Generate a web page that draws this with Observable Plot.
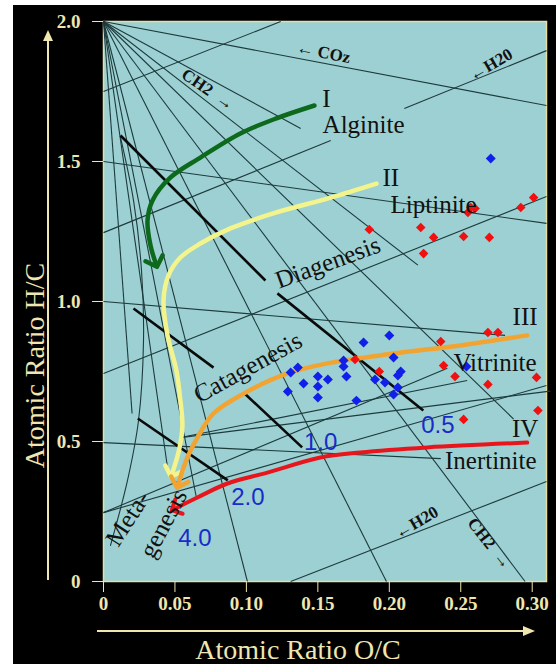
<!DOCTYPE html>
<html><head><meta charset="utf-8">
<script src="https://cdn.jsdelivr.net/npm/d3@7"></script>
<script src="https://cdn.jsdelivr.net/npm/@observablehq/plot@0.6"></script>
<style>
body{margin:0;background:#fff;width:556px;height:664px;overflow:hidden}
#chart{position:absolute;left:13px;top:5px}
</style>
</head><body><div id="chart"></div><script>
// ---------- data (O/C, H/C) ----------
const xTicks = [0, 0.05, 0.10, 0.15, 0.20, 0.25, 0.30];
const xTickLabels = ["0", "0.05", "0.10", "0.15", "0.20", "0.25", "0.30"];
const yTicks = [0, 0.5, 1.0, 1.5, 2.0];
const yTickLabels = ["0", "0.5", "1.0", "1.5", "2.0"];

// fan lines radiating from the apex (0, 2.0)
const apexOC = 0, apexHC = 2.0;
const fanEndOC = [0.31, 0.138, 0.22, 0.287, 0.295, 0.198, 0.1007, 0.065, 0.045, 0.02];
const fanEndHC = [1.70, 1.618, 1.13, 0.58, 0.0, 0.0, 0.0, 0.30, 0.40, 0.60];

// other thin guide lines
const guideOC1 = [0, 0, 0, 0, 0, 0, 0, 0, 0.0538, 0.0538, 0.131, 0.2105];
const guideHC1 = [1.5, 1.0, 0.496, 1.75, 1.246, 0.743, 0.246, 0.246, 0.514, 0.514, 0.0, 1.689];
const guideOC2 = [0.31, 0.281, 0.236, 0.124, 0.159, 0.31, 0.31, 0.2406, 0.3126, 0.2545, 0.31, 0.31];
const guideHC2 = [1.279, 0.879, 0.439, 2.0, 1.575, 1.375, 0.70, 0.762, 0.68, 0.718, 0.357, 1.896];

// curved metagenesis boundary
const metaOC = [0.0119, 0.021, 0.0266, 0.028, 0.0245, 0.0168, 0.0049];
const metaHC = [1.586, 1.361, 1.111, 0.861, 0.575, 0.361, 0.129];

// thick black iso-reflectance segments
const isoOC1 = [0.0119, 0.1217, 0.021, 0.098, 0.024];
const isoHC1 = [1.593, 1.029, 0.975, 0.675, 0.582];
const isoOC2 = [0.1133, 0.2238, 0.077, 0.139, 0.087];
const isoHC2 = [1.075, 0.611, 0.764, 0.479, 0.361];

// evolution paths of kerogen types
const typeI_OC = [0.1476, 0.121, 0.0958, 0.0678, 0.0469, 0.0343, 0.0308, 0.0329, 0.0364];
const typeI_HC = [1.700, 1.654, 1.600, 1.514, 1.443, 1.361, 1.289, 1.200, 1.139];
const typeII_OC = [0.191, 0.159, 0.121, 0.0888, 0.0678, 0.0538, 0.0455, 0.042, 0.0448, 0.051, 0.0538, 0.0552, 0.0531, 0.0483];
const typeII_HC = [1.421, 1.371, 1.318, 1.261, 1.207, 1.157, 1.093, 1.004, 0.879, 0.754, 0.646, 0.557, 0.475, 0.389];
const typeIII_OC = [0.2965, 0.2497, 0.2028, 0.1566, 0.1287, 0.098, 0.0769, 0.0657, 0.0587, 0.0524];
const typeIII_HC = [0.879, 0.843, 0.814, 0.779, 0.743, 0.671, 0.600, 0.514, 0.443, 0.350];
const typeIV_OC = [0.2965, 0.2266, 0.1797, 0.1517, 0.1147, 0.0867, 0.0657, 0.0503];
const typeIV_HC = [0.496, 0.479, 0.461, 0.443, 0.389, 0.350, 0.300, 0.261];

// samples
const blueOC = [0.200, 0.182, 0.168, 0.168, 0.203, 0.136, 0.131, 0.150, 0.157, 0.170, 0.140, 0.150, 0.129, 0.150, 0.177, 0.190, 0.197, 0.208, 0.206, 0.206, 0.203, 0.254, 0.271];
const blueHC = [0.879, 0.854, 0.789, 0.768, 0.800, 0.764, 0.746, 0.732, 0.721, 0.732, 0.707, 0.696, 0.679, 0.657, 0.646, 0.721, 0.711, 0.750, 0.736, 0.693, 0.668, 0.768, 1.511];
const redOC = [0.186, 0.222, 0.231, 0.224, 0.252, 0.270, 0.257, 0.255, 0.260, 0.292, 0.301, 0.269, 0.276, 0.236, 0.238, 0.246, 0.269, 0.303, 0.304, 0.252, 0.176, 0.193];
const redHC = [1.257, 1.264, 1.229, 1.171, 1.232, 1.229, 1.336, 1.318, 1.332, 1.336, 1.371, 0.889, 0.889, 0.857, 0.771, 0.732, 0.704, 0.729, 0.611, 0.579, 0.793, 0.750];

// labels
const typeLabels = ["I", "Alginite", "II", "Liptinite", "III", "Vitrinite", "IV", "Inertinite"];
const typeLabelOC = [0.156, 0.182, 0.201, 0.231, 0.295, 0.274, 0.295, 0.271];
const typeLabelHC = [1.725, 1.629, 1.440, 1.343, 0.943, 0.782, 0.546, 0.432];
const stageLabels = ["Diagenesis", "Catagenesis", "Meta-", "genesis"];
const stageLabelOC = [0.157, 0.101, 0.017, 0.042];
const stageLabelHC = [1.139, 0.764, 0.225, 0.207];
const stageAngle = [-20, -29, -57, -62];
const roLabels = ["0.5", "1.0", "2.0", "4.0"];
const roLabelOC = [0.234, 0.152, 0.101, 0.064];
const roLabelHC = [0.557, 0.496, 0.300, 0.154];
const reactLabels = ["\u2190 COz", "\u2190H20", "CH2  \u2192", "\u2190H20", "CH2  \u2192"];
const reactOC = [0.154, 0.271, 0.073, 0.219, 0.270];
const reactHC = [1.889, 1.846, 1.757, 0.211, 0.136];
const reactAngle = [11, -30, 35, -30, 52];
const xTitle = "Atomic Ratio O/C";
const yTitle = "Atomic Ratio H/C";

// ---------- helpers ----------
const zip = (xs, ys) => xs.map((x, i) => ({x, y: ys[i]}));
const fan = fanEndOC.map((x, i) => ({x1: apexOC, y1: apexHC, x2: x, y2: fanEndHC[i]}));
const guides = guideOC1.map((x, i) => ({x1: x, y1: guideHC1[i], x2: guideOC2[i], y2: guideHC2[i]}));
const isos = isoOC1.map((x, i) => ({x1: x, y1: isoHC1[i], x2: isoOC2[i], y2: isoHC2[i]}));
const tLab = typeLabels.map((t, i) => ({t, x: typeLabelOC[i], y: typeLabelHC[i]}));
const sLab = stageLabels.map((t, i) => ({t, x: stageLabelOC[i], y: stageLabelHC[i], r: stageAngle[i]}));
const rLab = roLabels.map((t, i) => ({t, x: roLabelOC[i], y: roLabelHC[i]}));
const aLab = reactLabels.map((t, i) => ({t, x: reactOC[i], y: reactHC[i], r: reactAngle[i]}));

const cream = "#efe6b0";
const cyan = "#9dd0d2";
const lineCol = "#1d3a3c";

function decorations(index, scales, values, dims) {
  const {width, height, marginLeft, marginRight, marginTop, marginBottom} = dims;
  const g = d3.create("svg:g");
  const ax = marginLeft - 55, ay0 = height - marginBottom - 1, ay1 = marginTop + 9;
  g.append("line").attr("x1", ax).attr("x2", ax).attr("y1", ay0).attr("y2", ay1 + 8)
    .attr("stroke", cream).attr("stroke-width", 2);
  g.append("path").attr("d", `M${ax},${ay1}l-5,11l10,0z`).attr("fill", cream);
  const by = height - marginBottom + 50, bx0 = marginLeft - 6, bx1 = width - marginRight - 11;
  g.append("line").attr("x1", bx0).attr("x2", bx1 - 8).attr("y1", by).attr("y2", by)
    .attr("stroke", cream).attr("stroke-width", 2);
  g.append("path").attr("d", `M${bx1},${by}l-12,-5l0,10z`).attr("fill", cream);
  return g.node();
}

const chart = Plot.plot({
  width: 543,
  height: 659,
  marginLeft: 90,
  marginRight: 10,
  marginTop: 16,
  marginBottom: 83,
  style: {background: "#000", color: cream, fontFamily: "Liberation Serif"},
  x: {domain: [0, 0.31]},
  y: {domain: [0, 2.0]},
  marks: [
    Plot.frame({fill: cyan, stroke: "#e6dfa0", strokeWidth: 1.5}),
    Plot.link(fan, {x1: "x1", y1: "y1", x2: "x2", y2: "y2", stroke: lineCol, strokeWidth: 1.1}),
    Plot.link(guides, {x1: "x1", y1: "y1", x2: "x2", y2: "y2", stroke: lineCol, strokeWidth: 1.1}),
    Plot.line(zip(metaOC, metaHC), {x: "x", y: "y", curve: "catmull-rom", stroke: lineCol, strokeWidth: 1.1}),
    Plot.link(isos, {x1: "x1", y1: "y1", x2: "x2", y2: "y2", stroke: "#0a0a0a", strokeWidth: 2.6}),
    Plot.line(zip(typeI_OC, typeI_HC), {x: "x", y: "y", curve: "catmull-rom", stroke: "#0d6a1c", strokeWidth: 4.5, markerEnd: "arrow"}),
    Plot.line(zip(typeII_OC, typeII_HC), {x: "x", y: "y", curve: "catmull-rom", stroke: "#f4f48c", strokeWidth: 4.5, markerEnd: "arrow"}),
    Plot.line(zip(typeIII_OC, typeIII_HC), {x: "x", y: "y", curve: "catmull-rom", stroke: "#f2a432", strokeWidth: 4.5, markerEnd: "arrow"}),
    Plot.line(zip(typeIV_OC, typeIV_HC), {x: "x", y: "y", curve: "catmull-rom", stroke: "#e8161c", strokeWidth: 4, markerEnd: "arrow"}),
    Plot.dot(zip(redOC, redHC), {x: "x", y: "y", symbol: "diamond2", r: 4.3, fill: "#f01010", stroke: "none"}),
    Plot.dot(zip(blueOC, blueHC), {x: "x", y: "y", symbol: "diamond2", r: 4.5, fill: "#1020e8", stroke: "none"}),
    Plot.text(tLab, {x: "x", y: "y", text: "t", fontSize: 25, fill: "#111", fontFamily: "Liberation Serif"}),
    Plot.text(sLab, {x: "x", y: "y", text: "t", rotate: "r", fontSize: 25, fill: "#111", fontFamily: "Liberation Serif"}),
    Plot.text(rLab, {x: "x", y: "y", text: "t", fontSize: 24, fill: "#1a2bc8", fontFamily: "Liberation Sans"}),
    Plot.text(aLab, {x: "x", y: "y", text: "t", rotate: "r", fontSize: 17, fill: "#111", fontFamily: "Liberation Serif", fontWeight: "bold"}),
    Plot.axisX({ticks: xTicks, tickFormat: (d, i) => xTickLabels[i], tickSize: 11, tickPadding: 4, fontSize: 19, fontWeight: "bold", fill: cream, stroke: cream, label: null}),
    Plot.axisY({ticks: yTicks, tickFormat: (d, i) => yTickLabels[i], tickSize: 11, tickPadding: 12, fontSize: 19, fontWeight: "bold", fill: cream, stroke: cream, label: null}),
    Plot.text([xTitle], {frameAnchor: "bottom", dx: -27, dy: 69, fontSize: 28, fill: cream, fontFamily: "Liberation Serif", lineAnchor: "middle"}),
    Plot.text([yTitle], {frameAnchor: "left", textAnchor: "middle", dx: -68, dy: 64, rotate: -90, fontSize: 28, fill: cream, fontFamily: "Liberation Serif", lineAnchor: "middle"}),
    decorations
  ]
});
document.getElementById("chart").append(chart);
</script></body></html>
